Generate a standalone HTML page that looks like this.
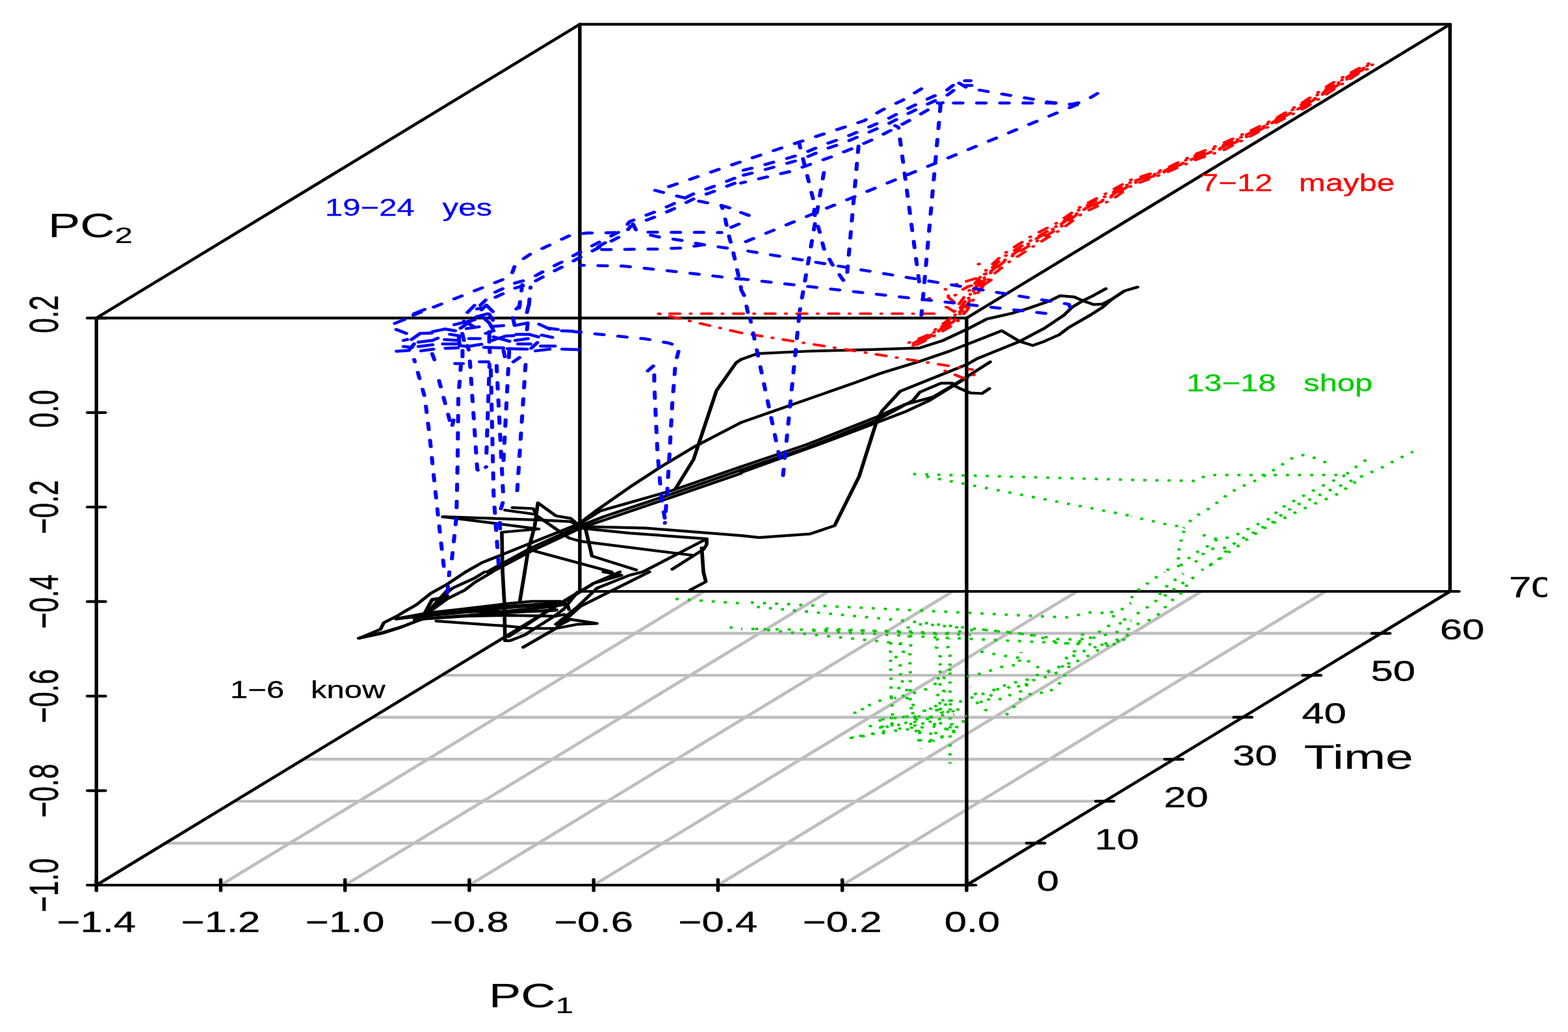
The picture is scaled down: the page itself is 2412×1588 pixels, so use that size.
<!DOCTYPE html>
<html lang="en">
<head>
<meta charset="utf-8">
<title>PC trajectories over time</title>
<style>
html,body{margin:0;padding:0;background:#fff}
body{width:2412px;height:1588px}
svg{display:block}
text{font-family:"Liberation Sans",Arial,Helvetica,sans-serif}
</style>
</head>
<body>
<svg width="2412" height="1588" viewBox="0 0 2412 1588">
<rect width="2412" height="1588" fill="#fff"/>
<g fill="none" stroke-linecap="butt" stroke-linejoin="round">
<g transform="scale(1.3 1)" stroke="#bebebe" stroke-width="4.4">
<line x1="261.18" y1="1362.00" x2="833.18" y2="910.00"/>
<line x1="408.27" y1="1362.00" x2="980.27" y2="910.00"/>
<line x1="555.37" y1="1362.00" x2="1127.37" y2="910.00"/>
<line x1="702.47" y1="1362.00" x2="1274.47" y2="910.00"/>
<line x1="849.57" y1="1362.00" x2="1421.57" y2="910.00"/>
<line x1="996.67" y1="1362.00" x2="1568.67" y2="910.00"/>
<line x1="195.79" y1="1297.43" x2="1225.48" y2="1297.43"/>
<line x1="277.51" y1="1232.86" x2="1307.20" y2="1232.86"/>
<line x1="359.22" y1="1168.29" x2="1388.91" y2="1168.29"/>
<line x1="440.93" y1="1103.71" x2="1470.63" y2="1103.71"/>
<line x1="522.65" y1="1039.14" x2="1552.34" y2="1039.14"/>
<line x1="604.36" y1="974.57" x2="1634.05" y2="974.57"/>
</g>
<g transform="scale(1.3 1)" stroke="#000" stroke-width="4.2" stroke-linecap="round">
<rect x="114.08" y="489.40" width="1029.69" height="872.60"/>
<rect x="686.08" y="37.40" width="1029.69" height="872.60"/>
<line x1="114.08" y1="489.40" x2="686.08" y2="37.40"/>
<line x1="1143.77" y1="489.40" x2="1715.77" y2="37.40"/>
<line x1="114.08" y1="1362.00" x2="686.08" y2="910.00"/>
<line x1="1143.77" y1="1362.00" x2="1715.77" y2="910.00"/>
<line x1="114.08" y1="1353.40" x2="114.08" y2="1370.60"/>
<line x1="261.18" y1="1353.40" x2="261.18" y2="1370.60"/>
<line x1="408.27" y1="1353.40" x2="408.27" y2="1370.60"/>
<line x1="555.37" y1="1353.40" x2="555.37" y2="1370.60"/>
<line x1="702.47" y1="1353.40" x2="702.47" y2="1370.60"/>
<line x1="849.57" y1="1353.40" x2="849.57" y2="1370.60"/>
<line x1="996.67" y1="1353.40" x2="996.67" y2="1370.60"/>
<line x1="1143.77" y1="1353.40" x2="1143.77" y2="1370.60"/>
<line x1="103.62" y1="489.40" x2="124.54" y2="489.40"/>
<line x1="103.62" y1="634.83" x2="124.54" y2="634.83"/>
<line x1="103.62" y1="780.27" x2="124.54" y2="780.27"/>
<line x1="103.62" y1="925.70" x2="124.54" y2="925.70"/>
<line x1="103.62" y1="1071.13" x2="124.54" y2="1071.13"/>
<line x1="103.62" y1="1216.57" x2="124.54" y2="1216.57"/>
<line x1="103.62" y1="1362.00" x2="124.54" y2="1362.00"/>
<line x1="1133.31" y1="1362.00" x2="1154.23" y2="1362.00"/>
<line x1="1215.02" y1="1297.43" x2="1235.95" y2="1297.43"/>
<line x1="1296.74" y1="1232.86" x2="1317.66" y2="1232.86"/>
<line x1="1378.45" y1="1168.29" x2="1399.37" y2="1168.29"/>
<line x1="1460.16" y1="1103.71" x2="1481.09" y2="1103.71"/>
<line x1="1541.88" y1="1039.14" x2="1562.80" y2="1039.14"/>
<line x1="1623.59" y1="974.57" x2="1644.52" y2="974.57"/>
<line x1="1705.31" y1="910.00" x2="1726.23" y2="910.00"/>
</g>
<g transform="scale(1.35 1)" stroke="#000" stroke-width="4.2" stroke-linecap="round">
<polyline points="844.4,553.1 838.8,558.1 816.4,601.0 805.2,646.3 790.3,706.8 769.7,752.2"/>
<polyline points="844.4,650.1 792.2,686.7 754.8,716.9 717.5,749.7 680.1,785.0 661.4,803.9"/>
<polyline points="844.4,718.2 766.0,754.7 683.8,786.3 661.4,805.2 605.4,835.4 549.4,865.7 530.7,880.0"/>
<polyline points="844.4,723.2 766.0,759.8 687.6,795.1 661.4,808.9 605.4,843.0 555.0,880.0"/>
<polyline points="844.4,728.3 766.0,764.8 661.4,812.7 605.4,848.0 560.6,880.0"/>
<polyline points="504.6,795.1 614.8,800.1 650.2,802.6 661.4,810.2"/>
<polyline points="504.6,795.1 613.8,814.0 571.8,819.0 572.7,880.0"/>
<polyline points="661.4,810.2 650.2,797.6 633.4,793.8 612.9,773.7 609.2,810.2 601.7,848.0 597.9,880.0"/>
<polyline points="583.9,781.2 607.3,782.5 611.0,790.0"/>
<polyline points="575.5,785.0 609.2,791.3 648.4,827.9 661.4,832.9 788.4,854.3"/>
<polyline points="661.4,810.2 736.1,812.7 844.4,824.1"/>
<polyline points="661.4,812.7 717.5,820.3 805.2,829.1 805.2,837.9 801.5,845.5 766.0,875.8"/>
<polyline points="805.2,829.1 732.4,880.0"/>
<polyline points="667.0,812.7 674.5,855.6 724.9,877.0"/>
<polyline points="609.2,848.0 696.9,880.0"/>
<polyline points="799.6,843.0 801.5,880.0"/>
<polyline points="844.4,553.1 863.1,544.2 919.1,540.5 993.8,537.9 1048.0,535.4 1074.1,524.1 1102.1,506.4 1124.6,490.8 1154.2,481.7"/>
<polyline points="844.4,650.1 900.5,623.7 975.2,588.4 1003.2,574.5 1046.1,556.8 1081.6,540.5 1124.6,517.8 1141.4,508.9 1161.9,525.3 1176.8,531.6 1189.9,525.3 1206.7,515.3 1217.9,503.9 1242.2,485.0"/>
<polyline points="844.4,718.2 919.1,684.2 999.4,641.3 1031.2,622.4 1062.9,611.1 1085.3,593.4 1102.1,579.5 1128.3,556.8"/>
<polyline points="844.4,723.2 919.1,689.2 999.4,646.3 1040.5,616.1 1048.0,603.5 1072.3,589.6 1085.3,589.6"/>
<polyline points="844.4,727.0 937.8,681.6 999.4,650.1 1031.2,633.7 1059.2,616.1 1083.5,595.9 1102.1,580.8"/>
<polyline points="844.4,824.1 865.0,827.1 922.9,821.6 950.9,808.9 978.9,733.3 999.4,646.3 1005.0,632.5 1025.6,602.2 1102.1,560.6 1113.4,551.8 1161.9,525.3 1189.9,505.2 1212.3,485.0"/>
<polyline points="1085.3,592.1 1094.7,598.4 1105.9,604.7 1119.0,605.5 1127.4,597.9"/>
<polyline points="409.3,982.1 435.5,974.5 456.0,965.7 474.7,955.6 489.6,946.8"/>
<polyline points="409.3,982.1 433.6,968.2 437.3,958.2 452.3,948.1 461.6,940.5 474.7,930.4 490.9,913.0 509.6,898.9 530.7,880.0"/>
<polyline points="480.3,953.1 492.3,922.4 501.0,920.6 516.0,904.7 540.8,889.6 552.2,880.0"/>
<polyline points="487.8,943.0 509.6,921.6 529.6,908.0 540.8,896.4 559.5,881.3 560.6,880.0"/>
<polyline points="452.3,951.8 487.8,943.0 530.7,936.7 575.5,929.2 605.4,925.4 639.0,925.4 646.5,930.4 648.4,938.0"/>
<polyline points="474.7,953.1 530.7,948.1 575.5,946.8 633.4,948.1 642.8,945.5"/>
<polyline points="487.8,943.0 575.5,940.5 624.1,934.2 642.8,930.4"/>
<polyline points="497.1,955.6 575.5,963.2 605.4,967.0 633.4,967.0 657.7,960.7 680.1,959.4 650.2,953.1 639.0,960.7"/>
<polyline points="536.3,946.8 586.7,940.5 620.4,940.5 633.4,939.2"/>
<polyline points="452.3,951.8 530.7,941.8 586.7,934.2 633.4,930.4"/>
<polyline points="572.7,880.0 574.6,925.4 575.5,985.9 581.1,985.9 597.9,977.1 611.0,965.7 631.6,948.1 642.8,936.7 657.7,911.5"/>
<polyline points="597.9,880.0 592.3,925.4"/>
<polyline points="596.1,996.0 633.4,967.0 661.4,932.9 695.1,910.3 739.9,880.0"/>
<polyline points="579.3,979.6 624.1,940.5 659.6,911.5 676.4,897.6 706.3,880.0"/>
<polyline points="640.9,927.9 676.4,897.6 708.1,885.0 687.6,880.0"/>
<polyline points="633.4,960.7 657.7,934.2 680.1,905.2 717.5,885.0 732.4,880.0"/>
<polyline points="801.5,880.0 804.3,895.1 786.6,907.7"/>
<polyline points="1154.2,481.6 1171.6,474.5 1196.5,462.8 1207.7,455.2 1223.9,456.9 1233.9,462.8 1246.3,468.7 1256.3,467.8 1266.2,461.1 1281.2,447.6 1296.1,441.8"/>
<polyline points="1242.2,485.0 1256.3,472.9 1266.2,461.1"/>
<polyline points="1212.3,485.0 1221.4,472.9 1233.9,462.8 1246.3,454.4 1260.0,444.3"/>
<polyline points="451.2,952.6 509.7,941.7 571.9,933.3 634.2,928.2"/>
<polyline points="472.3,953.4 509.7,949.2 571.9,943.4 634.2,938.3"/>
<polyline points="479.8,953.4 492.3,923.2 501.0,921.2 509.7,908.1"/>
<polyline points="484.8,946.7 497.2,926.6 509.7,916.5"/>
<polyline points="488.5,941.7 503.5,924.9"/>
<polyline points="408.8,982.0 435.0,973.6 459.9,963.5 479.8,953.4 497.2,941.7"/>
</g>
<g transform="scale(1.35 1)" stroke="#ff0000" stroke-width="3.9" stroke-dasharray="0.8 12.0 11.4 12.0" stroke-linecap="round">
<polyline points="844.4,512.2 1107.7,568.7"/>
<polyline points="1076.9,570.7 1098.4,582.1 1119.9,572.0"/>
<polyline points="1077.0,445.1 1080.7,446.0 1080.7,457.7 1087.0,464.5 1096.9,469.5 1108.1,472.0"/>
<polyline points="1070.8,470.3 1079.5,472.9 1087.0,479.6 1096.9,481.3 1096.9,476.2" stroke-dashoffset="5"/>
<polyline points="1058.3,459.4 1068.3,454.4"/>
<polyline points="1088.2,454.4 1094.4,447.6 1103.1,440.9 1111.9,437.6"/>
<polyline points="1089.4,437.6 1114.3,427.5 1125.6,419.1"/>
<polyline points="1115.0,406.5 1125.6,400.6"/>
<polyline points="1109.4,444.3 1121.8,437.6 1129.3,430.8 1134.3,431.7"/>
<polyline points="750.4,482.6 1071.9,482.6"/>
<polyline points="1035.8,527.3 1057.4,515.4 1083.2,489.7 1092.3,468.6 1105.9,444.2 1122.8,416.8 1143.4,390.9 1174.9,363.7 1204.3,343.0 1230.7,318.7 1262.2,296.4 1287.6,277.2 1325.1,261.2 1362.5,237.2 1391.9,221.4 1422.5,202.7 1452.3,183.2 1484.9,157.1 1516.7,129.0 1545.5,107.2 1562.6,95.9"/>
<polyline points="1036.8,530.4 1058.1,517.1 1084.5,491.7 1095.4,471.4 1108.7,447.1 1124.5,419.2 1145.1,394.1 1176.9,368.1 1206.0,346.6 1231.6,320.8 1263.4,299.6 1288.7,280.3 1325.7,263.1 1363.0,238.8 1392.8,224.3 1423.5,205.5 1452.8,184.7 1485.7,158.9 1518.0,131.9 1546.5,109.5 1563.1,97.3" stroke-dashoffset="3"/>
<polyline points="1037.8,533.2 1058.9,518.8 1086.5,494.9 1099.0,474.9 1111.5,449.9 1126.8,422.2 1147.6,398.8 1179.1,373.0 1207.7,350.2 1233.0,323.9 1265.2,303.9 1289.6,283.2 1326.2,265.0 1363.9,241.6 1394.0,227.9 1424.4,208.0 1453.6,186.6 1487.1,161.9 1519.5,135.1 1547.3,111.5 1563.9,99.5" stroke-dashoffset="33"/>
<polyline points="1038.3,534.8 1059.6,520.6 1088.6,498.2 1101.8,477.4 1113.4,451.9 1129.1,425.1 1149.9,403.0 1180.7,376.4 1209.1,353.1 1234.4,327.2 1266.7,307.5 1290.2,284.9 1326.7,266.8 1364.8,244.7 1394.8,230.6 1424.9,209.4 1454.4,188.7 1488.4,164.8 1520.4,137.1 1547.9,112.9 1564.8,102.0" stroke-dashoffset="5"/>
<polyline points="1036.8,530.3 1058.3,517.5 1086.4,494.7 1097.2,473.2 1109.0,447.4 1125.9,421.0 1147.1,397.8 1177.7,369.8 1206.3,347.2 1232.8,323.4 1264.7,302.7 1288.7,280.4 1325.7,263.4 1363.9,241.8 1393.5,226.4 1423.4,205.2 1453.3,185.8 1487.0,161.9 1518.5,133.0 1546.3,109.1 1563.8,99.3" stroke-dashoffset="8"/>
<polyline points="751.1,483.0 844.4,512.2"/>
</g>
<g transform="scale(1.35 1)" stroke="#00cd00" stroke-width="3.8" stroke-dasharray="3.5 10.3" stroke-linecap="butt">
<polyline points="1040.5,729.5 1288.9,738.4"/>
<polyline points="1055.5,733.3 1288.9,793.8"/>
<polyline points="1288.9,738.4 1363.6,740.1 1373.9,731.6 1387.9,730.8 1526.1,730.8 1535.4,728.3 1546.6,716.9 1556.9,707.4"/>
<polyline points="1443.0,730.3 1454.2,720.7 1464.4,711.9 1474.7,703.1 1485.9,700.0 1499.0,705.1 1511.1,711.9" stroke-dashoffset="5"/>
<polyline points="1288.9,794.6 1336.1,808.9 1350.5,810.2" stroke-dashoffset="3"/>
<polyline points="1348.6,812.7 1359.5,796.8 1370.1,788.3 1381.0,780.0 1389.9,769.9 1399.3,760.5 1409.9,751.7 1421.5,744.7 1433.2,737.9 1443.0,730.3" stroke-dashoffset="2"/>
<polyline points="1350.5,808.9 1348.6,819.0 1345.8,832.4 1343.6,845.0 1342.5,857.6 1344.9,870.7 1337.4,871.5 1326.2,880.0" stroke-dashoffset="6"/>
<polyline points="1344.9,870.7 1358.0,854.8 1369.2,845.5 1380.4,837.2 1386.9,829.6 1404.7,826.1 1415.9,817.8 1427.1,811.0 1438.3,803.2 1450.4,795.8 1456.0,785.0 1466.3,776.9 1476.6,769.1 1487.8,761.1 1499.0,753.0 1510.2,745.4 1522.3,737.9 1535.4,729.5"/>
<polyline points="1361.7,819.0 1373.9,824.6 1386.9,829.6" stroke-dashoffset="4"/>
<polyline points="1358.0,870.7 1372.9,849.8 1384.1,843.0 1400.0,843.0 1408.4,834.2 1419.6,825.8 1430.8,817.8 1442.0,808.9 1453.2,801.4 1462.6,788.8 1473.8,780.5 1484.0,772.4 1495.2,767.4 1506.4,759.8 1517.6,753.0 1529.8,745.9 1541.0,739.1 1553.1,732.1 1565.3,725.0 1576.5,718.2 1587.7,709.9 1598.9,702.3 1610.1,695.0" stroke-dashoffset="7"/>
<polyline points="1369.2,877.5 1389.7,859.9 1399.1,850.5 1409.3,841.7 1418.7,832.1 1428.9,822.8 1439.2,814.0 1449.5,805.9 1460.7,798.9 1472.8,790.8 1484.0,783.7 1495.2,776.7 1507.4,769.9 1519.5,763.6 1529.8,755.5 1539.1,745.9 1550.3,737.1" stroke-dashoffset="1"/>
<polyline points="1373.9,873.2 1385.1,865.7 1392.5,854.3 1400.9,843.0" stroke-dashoffset="9"/>
<polyline points="769.7,921.6 844.4,928.4"/>
<polyline points="831.4,965.7 844.4,965.7"/>
<polyline points="855.6,927.1 1202.1,949.3 1216.1,949.8 1242.2,942.5 1255.3,943.0 1268.3,948.1 1281.4,953.1 1288.9,955.6"/>
<polyline points="1255.3,943.0 1275.8,941.0 1284.2,930.4 1288.9,927.9" stroke-dashoffset="4"/>
<polyline points="854.7,932.9 1034.0,955.6 1156.3,974.5 1184.3,978.3 1202.1,983.4 1229.1,983.9 1247.8,980.8 1262.7,975.8 1288.9,967.0" stroke-dashoffset="6"/>
<polyline points="844.4,967.5 1035.9,971.5 1068.5,974.5 1105.9,977.1" stroke-dashoffset="2"/>
<polyline points="855.6,967.0 1037.7,991.7" stroke-dashoffset="9"/>
<polyline points="917.3,969.5 1055.5,980.1 1138.6,985.1 1220.7,990.2 1240.3,983.4 1262.7,963.2 1288.9,955.6" stroke-dashoffset="5"/>
<polyline points="937.8,967.0 1068.5,975.8 1115.2,968.2 1143.2,972.0 1170.3,975.8 1189.9,982.1 1207.7,989.7 1229.1,990.9 1255.3,992.2 1273.9,990.9 1288.9,975.8" stroke-dashoffset="11"/>
<polyline points="1014.4,988.4 1017.2,998.0 1014.8,1001.8 1014.8,1014.9 1014.8,1028.0 1015.3,1040.8 1015.3,1053.9 1015.3,1067.3 1015.9,1080.4 1016.6,1086.7 1017.2,1106.9 1015.9,1117.0"/>
<polyline points="1034.9,953.1 1034.9,966.5 1035.9,979.1 1037.7,991.7 1036.8,1004.8 1036.8,1018.2 1037.2,1031.3 1037.2,1044.4 1037.2,1057.7 1036.8,1071.6 1037.7,1083.7 1038.7,1095.0 1042.0,1101.3 1042.8,1108.2 1042.4,1122.0 1045.2,1125.8 1051.7,1130.1 1048.9,1138.9 1049.3,1151.8" stroke-dashoffset="3"/>
<polyline points="1024.6,989.7 1030.3,996.0 1028.4,1009.1 1020.9,1011.1 1025.6,1022.9 1026.5,1035.0 1024.6,1047.6 1030.3,1048.9 1022.8,1061.0 1027.5,1062.8 1033.1,1061.5 1034.9,1074.1 1019.0,1074.1"/>
<polyline points="1067.6,982.1 1069.5,989.7 1066.7,995.2 1069.5,1002.3 1071.3,1011.1 1068.5,1016.1 1072.3,1024.5 1068.5,1028.7 1073.2,1037.6 1067.6,1042.1 1075.1,1050.9 1068.5,1054.7 1076.0,1064.0 1066.7,1067.8 1076.9,1076.6 1066.1,1080.9 1075.1,1082.9 1062.0,1088.0 1069.5,1091.8 1065.7,1094.3 1074.1,1095.5 1068.5,1101.1 1060.1,1103.9 1064.8,1108.2 1064.8,1118.2 1065.7,1122.0 1066.7,1130.8 1067.6,1134.6 1062.9,1140.9"/>
<polyline points="1081.6,982.1 1080.1,996.7 1082.5,1003.5 1082.5,1175.0" stroke-dashoffset="2"/>
<polyline points="1047.1,960.7 1061.1,961.4 1074.1,963.2 1088.1,965.0 1101.8,966.5"/>
<polyline points="972.4,1097.3 984.5,1093.5 980.8,1088.7 993.8,1083.7 1005.0,1076.6 1016.2,1074.1 1034.9,1069.1 1045.2,1064.8 1057.3,1059.7 1075.1,1043.9 1083.5,1028.7"/>
<polyline points="969.6,1135.9 977.0,1131.6 983.6,1132.9 990.1,1127.1 996.6,1130.1 1002.8,1132.1 1008.8,1125.8 1003.2,1120.8 1006.0,1117.0 1003.2,1109.4 1006.0,1106.9 1016.2,1105.6 1029.3,1103.1 1042.4,1101.3 1055.5,1104.4 1068.5,1101.1 1087.2,1099.3"/>
<polyline points="992.9,1117.7 1003.2,1119.5 1016.2,1115.7 1023.7,1123.8 1031.2,1110.7 1037.7,1122.0 1044.3,1106.9 1050.8,1119.5 1054.5,1113.2 1064.8,1108.2 1077.9,1117.0 1085.3,1114.5 1087.2,1128.3" stroke-dashoffset="5"/>
<polyline points="1051.7,1093.0 1056.4,1096.8 1062.0,1088.0 1069.5,1091.8 1077.9,1089.2 1087.2,1079.2 1094.7,1079.2 1093.7,1090.5 1087.2,1094.3" stroke-dashoffset="2"/>
<polyline points="1046.1,1138.9 1058.3,1140.9 1066.7,1134.6 1074.1,1134.6 1081.6,1135.9"/>
<polyline points="1077.9,1123.3 1085.3,1118.2 1087.2,1128.3 1092.8,1109.9 1106.8,1110.7"/>
<polyline points="1105.9,1074.1 1119.9,1067.8 1133.0,1061.5 1146.0,1053.9 1160.0,1048.9 1173.1,1045.1 1181.5,1038.8 1196.5,1033.3 1208.6,1025.0 1217.0,1023.7 1220.7,1011.1 1232.9,1002.8 1245.0,997.2 1258.1,990.9 1272.1,984.6 1288.9,974.5"/>
<polyline points="1142.3,1106.9 1149.2,1096.1 1156.9,1085.0 1163.8,1073.6 1180.0,1064.8 1192.7,1067.1 1202.1,1058.0 1210.1,1047.6 1214.2,1036.3 1217.9,1026.2 1229.1,1016.1 1240.3,1009.1 1253.4,998.5 1266.5,990.9 1279.6,983.4" stroke-dashoffset="6"/>
<polyline points="1105.9,1056.5 1111.5,1067.8 1118.0,1079.9 1122.7,1091.8 1131.1,1101.8" stroke-dashoffset="3"/>
<polyline points="1107.7,1001.0 1120.8,1003.5 1134.5,1006.8 1147.9,1009.8 1161.3,1012.4 1170.3,1016.1 1184.3,1028.0 1196.5,1033.3" stroke-dashoffset="4"/>
<polyline points="1102.1,1041.3 1109.6,1039.3 1121.8,1034.5 1134.5,1029.5 1147.0,1023.7 1161.3,1023.7 1161.9,1011.1 1163.8,1003.5" stroke-dashoffset="1"/>
<polyline points="1106.8,1084.7 1117.1,1079.9 1132.0,1074.1 1143.2,1076.6 1152.6,1067.8 1169.4,1061.5 1170.3,1048.9 1186.2,1043.9 1196.5,1039.3 1208.6,1033.0 1213.3,1014.9 1225.4,1001.0 1236.6,967.0" stroke-dashoffset="8"/>
<polyline points="1128.3,1071.6 1133.9,1060.3 1146.0,1061.0 1154.4,1053.2 1167.5,1059.0 1171.2,1047.6 1175.9,1050.9"/>
<polyline points="1288.9,920.3 1298.2,906.5 1307.6,897.6 1316.9,888.8 1327.2,880.0"/>
<polyline points="1288.9,953.1 1299.2,940.5 1309.4,932.9 1318.8,922.9 1329.0,915.3 1339.3,905.2 1348.6,896.4 1359.9,888.8 1365.5,883.8" stroke-dashoffset="3"/>
<polyline points="1288.9,963.2 1307.6,955.6 1318.8,946.8 1326.2,936.7 1333.7,925.4 1343.0,916.6 1351.4,905.2 1352.4,897.6" stroke-dashoffset="7"/>
<polyline points="1316.9,922.9 1323.4,910.3 1331.8,898.9 1341.2,890.1 1348.6,882.5" stroke-dashoffset="5"/>
<polyline points="990.5,1118.3 1005.4,1106.6 1017.9,1104.9 1030.3,1103.2 1046.5,1105.7 1065.2,1106.6 1082.6,1106.6"/>
<polyline points="1001.7,1123.4 1015.4,1115.8 1032.8,1115.0 1042.8,1113.3 1054.0,1113.3 1065.2,1118.3 1077.6,1121.7 1085.1,1115.0" stroke-dashoffset="5"/>
<polyline points="989.2,1126.7 996.7,1130.1 1007.9,1125.0 1022.8,1124.2 1037.8,1121.7 1051.5,1126.7 1065.2,1130.1 1073.9,1133.4 1081.4,1136.0" stroke-dashoffset="10"/>
<polyline points="968.1,1136.0 976.8,1131.8 983.0,1132.6 990.5,1126.7" stroke-dashoffset="2"/>
<polyline points="1037.8,1083.0 1042.8,1082.2 1037.8,1088.1 1039.0,1094.8 1041.5,1100.7 1042.8,1113.3 1044.0,1125.0 1052.7,1130.1" stroke-dashoffset="7"/>
<polyline points="1050.2,1093.1 1060.2,1094.8 1068.9,1092.3 1073.9,1094.8 1081.4,1095.6 1087.6,1098.2" stroke-dashoffset="12"/>
<polyline points="1066.4,1081.3 1075.1,1083.0 1081.4,1086.4 1085.1,1091.4 1087.6,1099.8" stroke-dashoffset="4"/>
<polyline points="1077.6,1076.3 1086.3,1078.8 1093.8,1078.0" stroke-dashoffset="9"/>
<polyline points="1045.3,1139.3 1051.5,1138.5 1058.9,1141.0 1063.3,1140.2" stroke-dashoffset="1"/>
<polyline points="1100.7,966.2 1101.9,967.1" stroke-dashoffset="6"/>
<polyline points="1100.0,1016.6 1101.3,1017.1" stroke-dashoffset="11"/>
<polyline points="1102.5,1029.2 1103.8,1029.6" stroke-dashoffset="3"/>
<polyline points="1100.7,1076.0 1102.5,1076.3" stroke-dashoffset="8"/>
<polyline points="1100.0,1101.8 1101.5,1102.2"/>
</g>
<g transform="scale(1.35 1)" stroke="#0000ff" stroke-width="4.5" stroke-dasharray="9.8 16.6" stroke-linecap="round">
<polyline points="471.0,485.0 582.1,425.3 587.3,406.4 604.1,391.3 650.2,361.8 668.9,358.5 683.8,358.5 710.0,357.2"/>
<polyline points="595.1,437.9 590.5,485.0"/>
<polyline points="604.5,441.7 601.7,485.0" stroke-dashoffset="8"/>
<polyline points="762.3,287.1 844.4,248.8"/>
<polyline points="746.4,292.9 782.8,305.5 809.0,313.1 822.0,316.1 835.1,321.4 844.4,325.7"/>
<polyline points="822.0,316.1 824.8,327.0 827.6,344.6 831.4,367.3 834.2,379.9 837.9,402.6 841.6,425.3 844.4,442.9" stroke-dashoffset="5"/>
<polyline points="833.2,349.7 844.4,343.4"/>
<polyline points="721.2,344.6 725.9,357.2 822.0,357.7"/>
<polyline points="725.9,357.2 751.1,364.8 778.2,370.3 805.2,377.4 832.3,382.4 844.4,385.0" stroke-dashoffset="10"/>
<polyline points="689.4,373.6 676.4,384.2 747.3,383.2 775.4,381.7 805.2,376.1"/>
<polyline points="661.4,408.2 710.9,409.4 765.1,417.2 820.2,425.8 844.4,429.6" stroke-dashoffset="6"/>
<polyline points="844.4,248.8 893.9,226.1 919.1,214.8 984.5,185.8 1005.0,169.4 1028.4,154.3 1049.9,136.6" stroke-dashoffset="12"/>
<polyline points="844.4,281.6 900.5,263.9 950.0,240.0 973.3,227.4 997.6,212.8 1020.0,197.1 1042.4,180.8 1064.8,163.1 1074.1,158.1" stroke-dashoffset="5"/>
<polyline points="1092.8,127.8 1102.1,135.4 1143.2,145.0 1171.2,151.3 1197.4,157.6 1219.8,160.6 1234.7,156.8 1257.1,138.4"/>
<polyline points="1068.5,158.6 1197.4,158.6 1219.8,160.6" stroke-dashoffset="8"/>
<polyline points="844.4,374.9 1234.7,156.8" stroke-dashoffset="20"/>
<polyline points="1071.7,161.8 1049.9,485.0"/>
<polyline points="1020.0,193.4 1023.7,195.9 1048.0,440.4" stroke-dashoffset="4"/>
<polyline points="979.3,208.5 964.9,426.6" stroke-dashoffset="10"/>
<polyline points="910.7,221.1 928.5,316.9 927.5,327.0 934.1,357.2 938.7,382.4 948.1,406.4 963.0,435.4" stroke-dashoffset="3"/>
<polyline points="940.6,251.3 911.3,478.2" stroke-dashoffset="12"/>
<polyline points="844.4,327.0 859.4,334.5"/>
<polyline points="844.4,384.5 1217.9,468.2 1223.5,485.0" stroke-dashoffset="18"/>
<polyline points="844.4,429.1 1203.0,484.0" stroke-dashoffset="2"/>
<polyline points="844.4,445.5 848.2,455.5 852.8,485.0"/>
<polyline points="614.8,500.1 626.0,505.2 654.0,510.2 680.1,514.0 708.1,517.8 736.1,521.6 762.3,527.9 774.4,534.2 769.7,558.1 766.0,622.4 763.2,690.5 760.4,753.5 757.6,805.2" stroke-dashoffset="14"/>
<polyline points="471.9,553.1 484.0,611.1 489.6,671.6 495.2,744.7 499.9,802.6 506.4,880.0" stroke-dashoffset="6"/>
<polyline points="492.4,544.2 495.2,554.3 504.6,556.8"/>
<polyline points="497.1,569.5 514.8,658.9 516.7,646.3" stroke-dashoffset="10"/>
<polyline points="527.0,539.2 527.0,558.1 518.6,559.4 532.6,559.4"/>
<polyline points="525.1,563.2 522.3,611.1 521.4,711.9 520.1,795.1 513.9,873.2" stroke-dashoffset="3"/>
<polyline points="535.4,555.6 543.8,722.0 546.6,728.3 554.1,718.2"/>
<polyline points="546.6,556.8 558.7,556.8 557.8,535.4"/>
<polyline points="557.8,560.6 554.1,704.3" stroke-dashoffset="5"/>
<polyline points="559.1,560.6 562.5,762.3 568.1,868.2" stroke-dashoffset="18"/>
<polyline points="565.3,548.0 573.7,769.9 570.3,785.0 583.9,781.2" stroke-dashoffset="12"/>
<polyline points="569.6,803.9 569.9,815.3"/>
<polyline points="573.7,539.2 575.5,550.5"/>
<polyline points="580.2,540.5 573.7,709.4"/>
<polyline points="584.9,556.8 594.2,548.0 598.9,560.6 588.6,769.9"/>
<polyline points="738.0,570.7 745.5,561.9 745.5,590.9 749.2,696.8 753.9,769.9 758.5,805.2"/>
<polyline points="854.7,490.0 890.2,715.7" stroke-dashoffset="4"/>
<polyline points="910.7,485.0 892.1,733.3"/>
<polyline points="512.0,880.0 509.2,922.9" stroke-dashoffset="4"/>
<polyline points="547.5,469.6 560.6,451.9 586.7,435.6 603.5,429.3 620.4,416.7 639.0,404.0 659.6,388.9 710.0,353.6 717.5,341.0 734.3,332.2 749.2,324.6 766.0,314.6 792.2,296.9 810.8,288.1 837.0,274.2 844.4,262.9 863.1,256.6 888.3,247.0 913.5,237.2 937.8,223.0 962.1,211.7 986.4,197.8 1010.6,183.5 1031.2,169.1 1053.6,154.5 1078.8,138.8 1092.8,124.2 1105.9,124.2"/>
<polyline points="548.6,476.8 561.7,459.1 587.9,442.8 604.7,436.5 621.5,423.9 640.1,411.2 660.7,396.1 711.1,360.8 718.6,348.2 735.4,339.4 750.3,331.8 767.1,321.8 793.3,304.1 811.9,295.3 838.1,281.4 845.6,270.1 864.2,263.8 889.4,254.2 914.6,244.4 938.9,230.2 963.2,218.9 987.5,205.0 1011.8,190.7 1032.3,176.3 1054.7,161.7 1079.9,146.0 1093.9,131.4 1107.0,131.4" stroke-dashoffset="1"/>
</g>
<g transform="scale(1.35 1)" stroke="#0000ff" stroke-width="4.5" stroke-linecap="round">
<polyline points="452.0,540.6 465.9,539.2"/>
<polyline points="466.9,537.2 471.9,529.2"/>
<polyline points="459.9,523.8 463.9,522.4"/>
<polyline points="459.9,533.2 469.9,534.5"/>
<polyline points="468.9,522.4 478.9,513.0 491.8,512.4"/>
<polyline points="492.8,510.3 506.8,506.3 518.7,509.0"/>
<polyline points="476.9,526.5 492.8,523.8 498.8,520.4"/>
<polyline points="476.9,533.2 492.8,530.5"/>
<polyline points="479.9,539.9 493.8,537.2"/>
<polyline points="504.8,529.2 519.7,529.2"/>
<polyline points="506.8,522.4 520.7,523.8"/>
<polyline points="507.7,535.9 521.7,535.2"/>
<polyline points="512.7,514.4 524.7,517.1"/>
<polyline points="522.7,517.1 523.7,531.8 532.6,533.2 548.6,529.8"/>
<polyline points="534.6,521.1 546.6,521.1"/>
<polyline points="526.7,513.0 528.7,523.8"/>
<polyline points="532.6,531.8 534.1,538.6"/>
<polyline points="553.6,513.0 562.5,509.0"/>
<polyline points="557.5,510.3 557.5,526.5"/>
<polyline points="560.5,523.8 576.5,517.1 585.4,516.4"/>
<polyline points="562.5,518.4 580.5,525.1"/>
<polyline points="551.6,534.5 573.5,535.2"/>
<polyline points="578.5,536.6 600.4,537.2"/>
<polyline points="590.4,529.2 604.4,529.2"/>
<polyline points="588.4,514.4 602.4,514.4 613.3,518.4"/>
<polyline points="587.4,523.8 601.4,521.1"/>
<polyline points="605.4,535.9 612.3,527.1"/>
<polyline points="610.3,539.9 626.3,537.2"/>
<polyline points="616.3,532.5 632.2,532.5"/>
<polyline points="517.7,499.6 540.6,492.2"/>
<polyline points="524.7,505.0 536.6,494.2"/>
<polyline points="531.7,505.6 545.6,502.9"/>
<polyline points="528.7,494.2 539.6,502.3"/>
<polyline points="542.6,487.5 555.6,482.8"/>
<polyline points="543.6,475.4 547.6,474.0"/>
<polyline points="548.6,486.1 557.5,496.9 561.5,506.3"/>
<polyline points="561.5,502.3 573.5,500.9"/>
<polyline points="557.5,483.4 561.5,492.9"/>
<polyline points="532.6,480.8 540.6,470.0"/>
<polyline points="554.6,470.0 561.5,479.4"/>
<polyline points="584.4,488.8 586.4,500.9 601.4,496.9 600.4,507.6"/>
<polyline points="588.4,475.4 592.4,470.0"/>
<polyline points="600.4,480.8 602.4,470.0"/>
<polyline points="450.0,497.6 460.9,491.5"/>
<polyline points="471.9,482.8 483.8,476.1"/>
<polyline points="451.5,507.0 462.9,513.0"/>
<polyline points="614.3,498.9 626.3,506.3"/>
<polyline points="640.2,509.0 653.2,509.7"/>
<polyline points="617.3,515.7 629.3,519.1"/>
<polyline points="640.7,537.2 659.1,537.9"/>
</g>
</g>
<svg x="0" y="0" width="2380" height="1588" overflow="hidden">
<g font-family="'Liberation Sans', Arial, Helvetica, sans-serif">
<text transform="translate(148.3 1433.8) scale(1.4 1)" font-size="44.0" fill="#000" text-anchor="middle" stroke="#000" stroke-width="0.4" stroke-linejoin="round">−1.4</text>
<text transform="translate(339.5 1433.8) scale(1.4 1)" font-size="44.0" fill="#000" text-anchor="middle" stroke="#000" stroke-width="0.4" stroke-linejoin="round">−1.2</text>
<text transform="translate(530.8 1433.8) scale(1.4 1)" font-size="44.0" fill="#000" text-anchor="middle" stroke="#000" stroke-width="0.4" stroke-linejoin="round">−1.0</text>
<text transform="translate(722.0 1433.8) scale(1.4 1)" font-size="44.0" fill="#000" text-anchor="middle" stroke="#000" stroke-width="0.4" stroke-linejoin="round">−0.8</text>
<text transform="translate(913.2 1433.8) scale(1.4 1)" font-size="44.0" fill="#000" text-anchor="middle" stroke="#000" stroke-width="0.4" stroke-linejoin="round">−0.6</text>
<text transform="translate(1104.4 1433.8) scale(1.4 1)" font-size="44.0" fill="#000" text-anchor="middle" stroke="#000" stroke-width="0.4" stroke-linejoin="round">−0.4</text>
<text transform="translate(1295.7 1433.8) scale(1.4 1)" font-size="44.0" fill="#000" text-anchor="middle" stroke="#000" stroke-width="0.4" stroke-linejoin="round">−0.2</text>
<text transform="translate(1486.9 1433.8) scale(1.4 1)" font-size="44.0" fill="#000" text-anchor="middle" stroke="#000" stroke-width="0.4" stroke-linejoin="round">&#160;0.0</text>
<text transform="translate(88.6 489.4) scale(1.52 1) rotate(-90)" font-size="42.0" fill="#000" text-anchor="middle" stroke="#000" stroke-width="0.4" stroke-linejoin="round">&#160;0.2</text>
<text transform="translate(88.6 634.8) scale(1.52 1) rotate(-90)" font-size="42.0" fill="#000" text-anchor="middle" stroke="#000" stroke-width="0.4" stroke-linejoin="round">&#160;0.0</text>
<text transform="translate(88.6 780.3) scale(1.52 1) rotate(-90)" font-size="42.0" fill="#000" text-anchor="middle" stroke="#000" stroke-width="0.4" stroke-linejoin="round">−0.2</text>
<text transform="translate(88.6 925.7) scale(1.52 1) rotate(-90)" font-size="42.0" fill="#000" text-anchor="middle" stroke="#000" stroke-width="0.4" stroke-linejoin="round">−0.4</text>
<text transform="translate(88.6 1071.1) scale(1.52 1) rotate(-90)" font-size="42.0" fill="#000" text-anchor="middle" stroke="#000" stroke-width="0.4" stroke-linejoin="round">−0.6</text>
<text transform="translate(88.6 1216.6) scale(1.52 1) rotate(-90)" font-size="42.0" fill="#000" text-anchor="middle" stroke="#000" stroke-width="0.4" stroke-linejoin="round">−0.8</text>
<text transform="translate(88.6 1362.0) scale(1.52 1) rotate(-90)" font-size="42.0" fill="#000" text-anchor="middle" stroke="#000" stroke-width="0.4" stroke-linejoin="round">−1.0</text>
<text transform="translate(1611.9 1371.2) scale(1.4 1)" font-size="44.0" fill="#000" text-anchor="middle" stroke="#000" stroke-width="0.4" stroke-linejoin="round">0</text>
<text transform="translate(1718.1 1306.6) scale(1.4 1)" font-size="44.0" fill="#000" text-anchor="middle" stroke="#000" stroke-width="0.4" stroke-linejoin="round">10</text>
<text transform="translate(1824.4 1242.1) scale(1.4 1)" font-size="44.0" fill="#000" text-anchor="middle" stroke="#000" stroke-width="0.4" stroke-linejoin="round">20</text>
<text transform="translate(1930.6 1177.5) scale(1.4 1)" font-size="44.0" fill="#000" text-anchor="middle" stroke="#000" stroke-width="0.4" stroke-linejoin="round">30</text>
<text transform="translate(2036.8 1112.9) scale(1.4 1)" font-size="44.0" fill="#000" text-anchor="middle" stroke="#000" stroke-width="0.4" stroke-linejoin="round">40</text>
<text transform="translate(2143.0 1048.3) scale(1.4 1)" font-size="44.0" fill="#000" text-anchor="middle" stroke="#000" stroke-width="0.4" stroke-linejoin="round">50</text>
<text transform="translate(2249.3 983.8) scale(1.4 1)" font-size="44.0" fill="#000" text-anchor="middle" stroke="#000" stroke-width="0.4" stroke-linejoin="round">60</text>
<text transform="translate(2355.5 919.2) scale(1.4 1)" font-size="44.0" fill="#000" text-anchor="middle" stroke="#000" stroke-width="0.4" stroke-linejoin="round">70</text>
<text transform="translate(74.0 364.9) scale(1.42 1)" font-size="52.0" fill="#000" text-anchor="start" stroke="#000" stroke-width="0.2" stroke-linejoin="round">PC<tspan font-size="35" dy="9.5" dx="0">2</tspan></text>
<text transform="translate(752.0 1549.8) scale(1.42 1)" font-size="52.0" fill="#000" text-anchor="start" stroke="#000" stroke-width="0.2" stroke-linejoin="round">PC<tspan font-size="35" dy="9.5" dx="0">1</tspan></text>
<text transform="translate(2006.0 1182.8) scale(1.478 1)" font-size="52.0" fill="#000" text-anchor="start" stroke="#000" stroke-width="0.2" stroke-linejoin="round">Time</text>
<text transform="translate(500.0 331.9) scale(1.345 1)" font-size="36.5" fill="#0000ff" text-anchor="start" stroke="#0000ff" stroke-width="0.3" stroke-linejoin="round">19−24&#160;&#160;<tspan dx="11.5">yes</tspan></text>
<text transform="translate(1847.0 293.7) scale(1.345 1)" font-size="36.5" fill="#ff0000" text-anchor="start" stroke="#ff0000" stroke-width="0.3" stroke-linejoin="round">7−12&#160;&#160;<tspan dx="9.8">maybe</tspan></text>
<text transform="translate(1825.0 602.2) scale(1.345 1)" font-size="36.5" fill="#00cd00" text-anchor="start" stroke="#00cd00" stroke-width="0.3" stroke-linejoin="round">13−18&#160;&#160;<tspan dx="11.2">shop</tspan></text>
<text transform="translate(354.0 1074.1) scale(1.345 1)" font-size="36.5" fill="#000000" text-anchor="start" stroke="#000000" stroke-width="0.3" stroke-linejoin="round">1−6&#160;&#160;<tspan dx="10">know</tspan></text>
</g>
</svg>
</svg>
</body>
</html>
